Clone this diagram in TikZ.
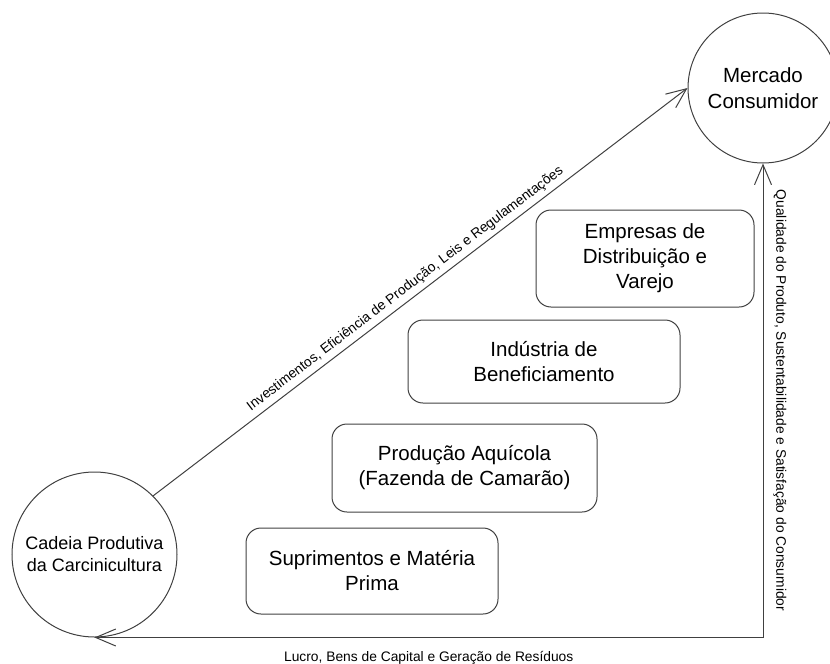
\documentclass[tikz,border=0pt]{standalone}
\usepackage{fontspec}
\setmainfont{Liberation Sans}
\usetikzlibrary{arrows.meta}
\begin{document}
\begin{tikzpicture}[x=1pt,y=-1pt,
  ln/.style={draw=black!75, line width=1pt},
  circ/.style={ln, circle, inner sep=0pt, align=center},
  box/.style={ln, rounded corners=15pt, inner sep=0pt, align=center, font=\fontsize{20.5}{25}\selectfont},
  lbl/.style={font=\fontsize{13.8}{16}\selectfont, inner sep=0pt},
  arr/.style={ln, -{Straight Barb[length=20pt,width=17pt]}}
]
\useasboundingbox (0,0) rectangle (830,664);
\node[circ, minimum size=165pt, font=\fontsize{18}{22}\selectfont] (L) at (94.5,554.5) {Cadeia Produtiva\\da Carcinicultura};
\node[circ, minimum size=150pt, font=\fontsize{20.5}{26}\selectfont] (R) at (763,88) {Mercado\\Consumidor};
\node[box, minimum width=218pt, minimum height=97pt] (E) at (645,258.5) {Empresas de\\Distribuição e\\Varejo};
\node[box, minimum width=272pt, minimum height=83pt] (I) at (544,361.5) {Indústria de\\Beneficiamento};
\node[box, minimum width=265pt, minimum height=88pt] (P) at (464.5,468) {Produção Aquícola\\(Fazenda de Camarão)};
\node[box, minimum width=252pt, minimum height=86pt] (S) at (372,571) {Suprimentos e Matéria\\Prima};
\coordinate (C) at (R.south |- L.south);
\draw[arr] (L.45) -- node[lbl, sloped, pos=0.485, above=4.5pt] (la) {Investimentos, Eficiência de Produção, Leis e Regulamentações} (R.west);
\draw[arr] (C) -- node[lbl, midway, xshift=17pt, rotate=-90] (lq) {Qualidade do Produto, Sustentabilidade e Satisfação do Consumidor} (R.south);
\draw[arr] (C) -- node[lbl, midway, yshift=-20.5pt] (ll) {Lucro, Bens de Capital e Geração de Resíduos} (L.south);
\end{tikzpicture}
\end{document}
